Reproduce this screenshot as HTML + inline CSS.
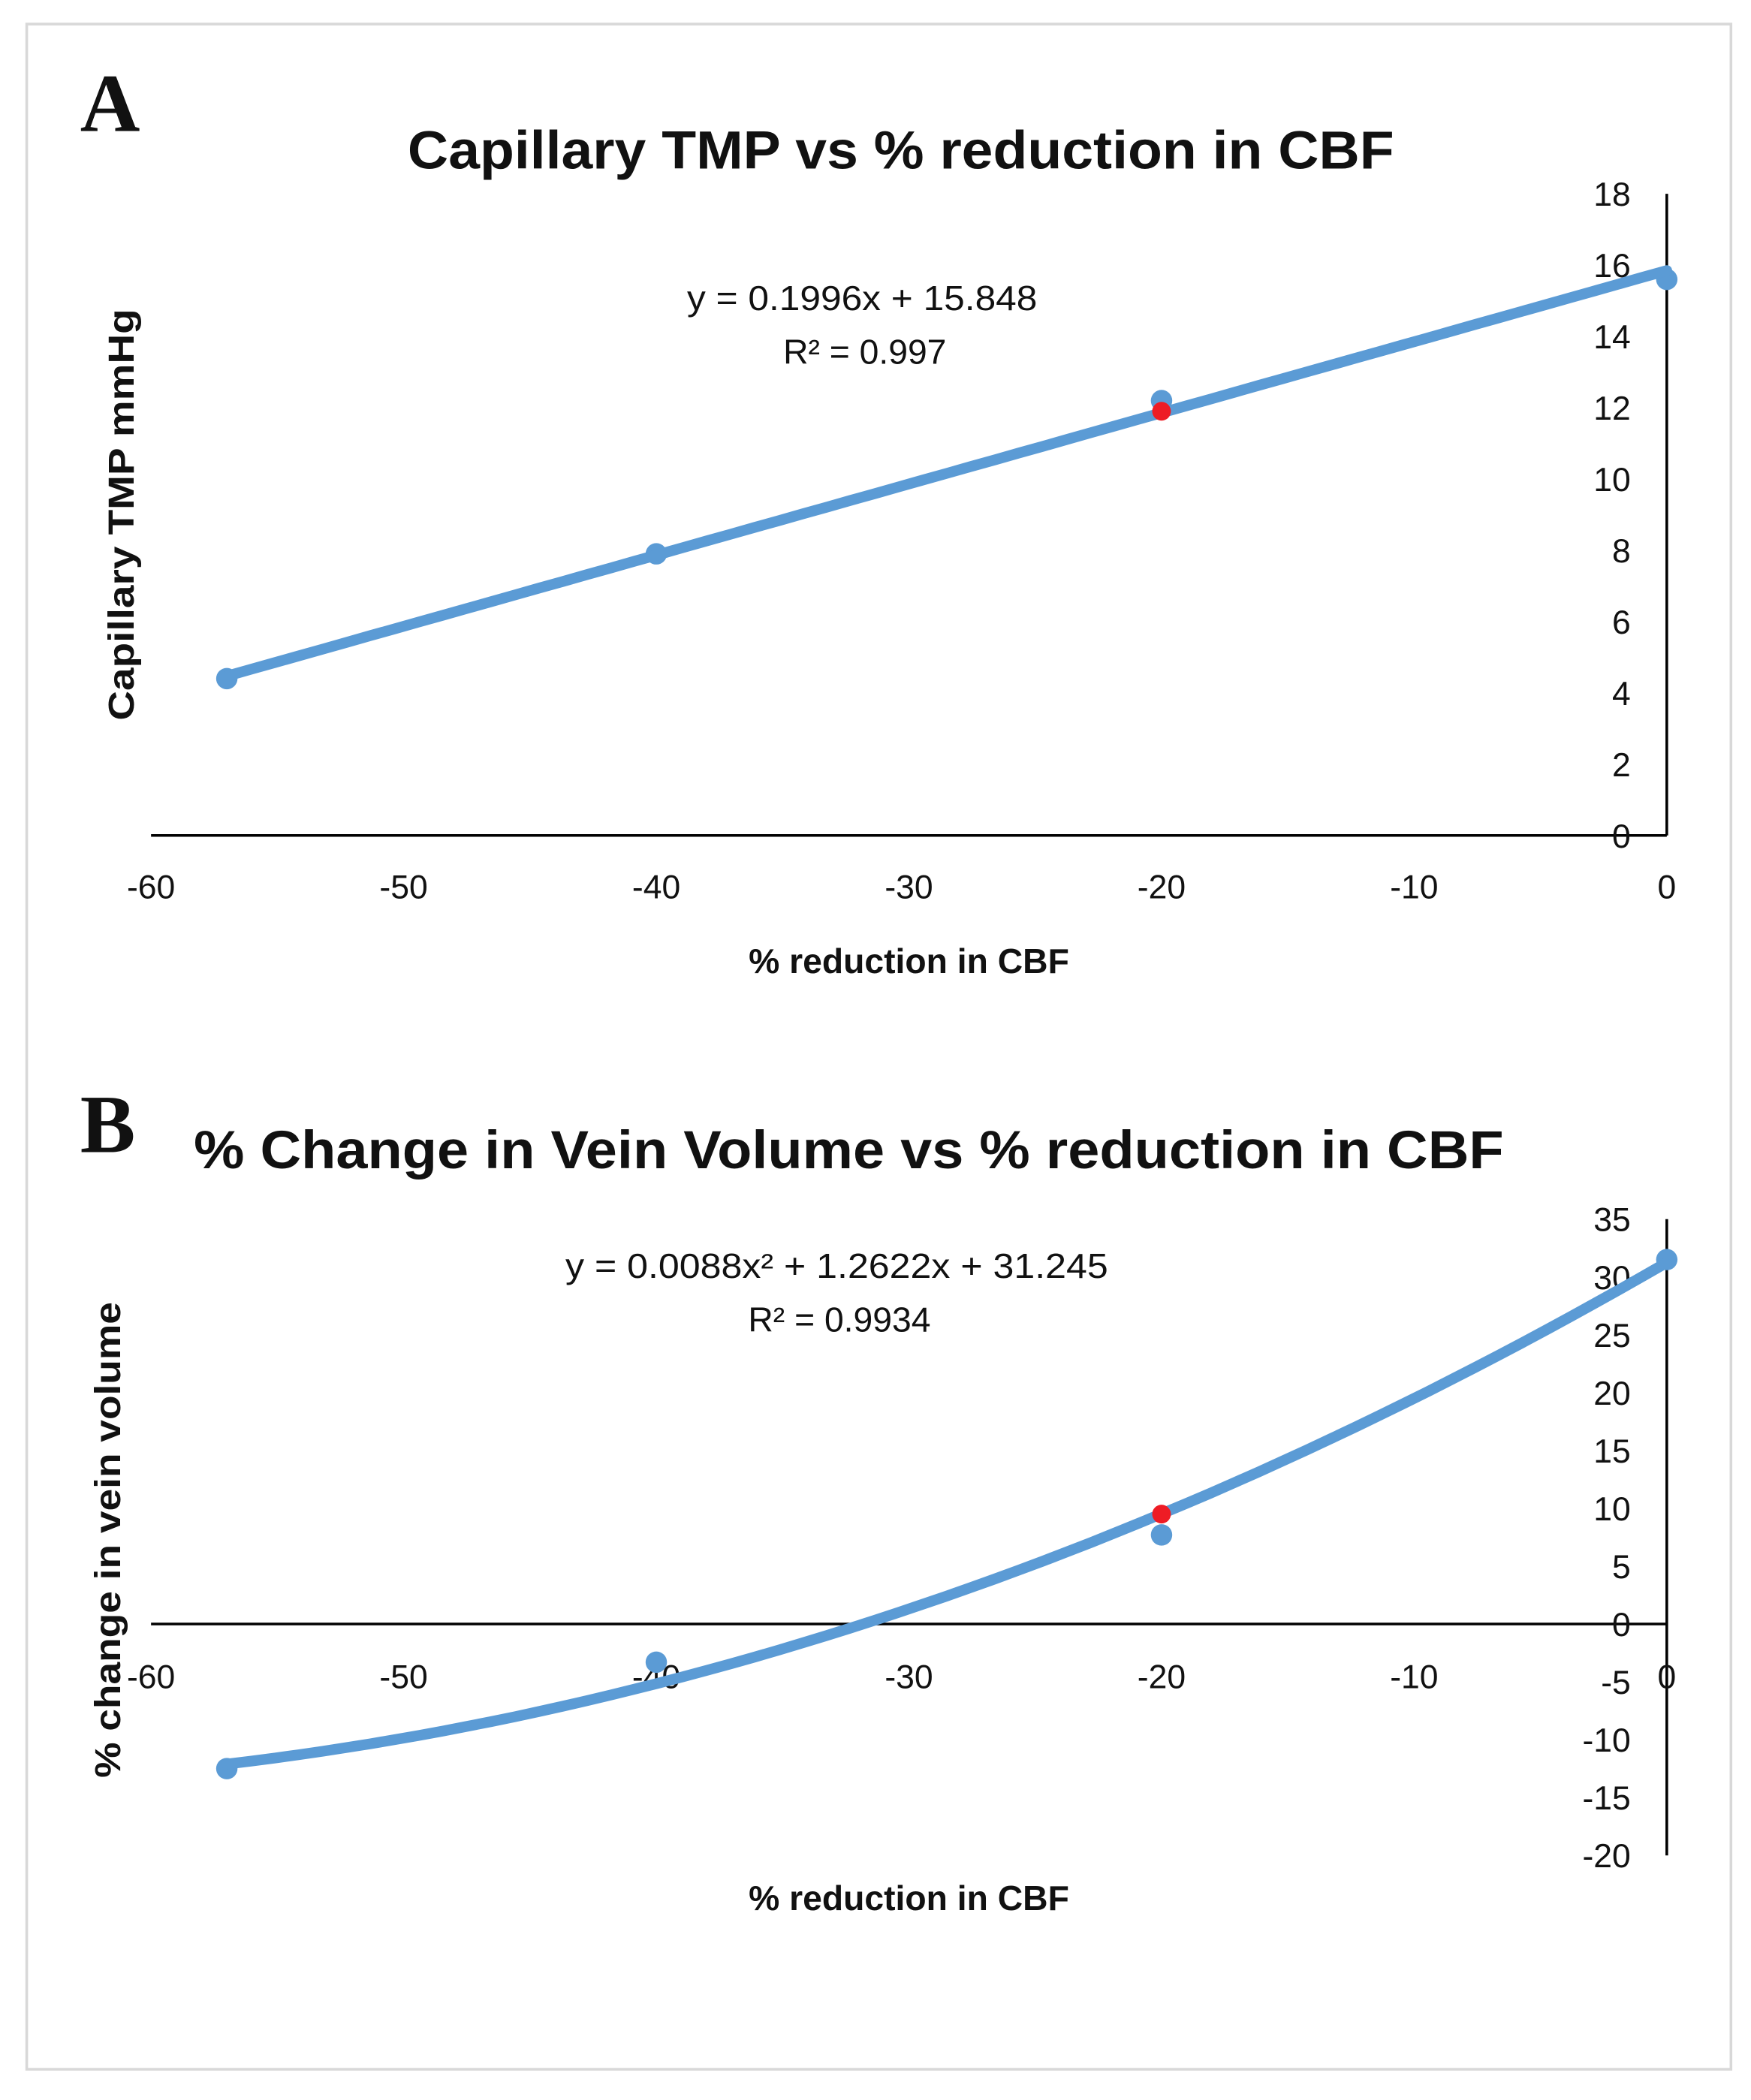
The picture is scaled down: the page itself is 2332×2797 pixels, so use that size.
<!DOCTYPE html>
<html><head><meta charset="utf-8"><style>
html,body{margin:0;padding:0;background:#fff;}
svg{display:block;}
text{font-family:"Liberation Sans",sans-serif;fill:#111;}
</style></head><body>
<svg id="fig" width="2332" height="2797" viewBox="0 0 1310 1571" preserveAspectRatio="none" xmlns="http://www.w3.org/2000/svg">
<rect x="0" y="0" width="1310" height="1571" fill="#fff"/>
<rect x="20" y="18" width="1275" height="1530" fill="none" stroke="#d8d8d8" stroke-width="2"/>
<text x="60" y="98" style="font-family:'Liberation Serif',serif;font-weight:bold;font-size:62px">A</text>
<text x="60" y="862" style="font-family:'Liberation Serif',serif;font-weight:bold;font-size:62px">B</text>
<text x="305" y="126" textLength="738" lengthAdjust="spacingAndGlyphs" style="font-weight:bold;font-size:40px">Capillary TMP vs % reduction in CBF</text>
<text x="145" y="874" textLength="980" lengthAdjust="spacingAndGlyphs" style="font-weight:bold;font-size:40px">% Change in Vein Volume vs  % reduction in CBF</text>
<text x="645" y="232" text-anchor="middle" textLength="262" lengthAdjust="spacingAndGlyphs" style="font-size:26px">y = 0.1996x + 15.848</text>
<text x="647" y="272" text-anchor="middle" style="font-size:26px">R² = 0.997</text>
<text x="626" y="956" text-anchor="middle" textLength="406" lengthAdjust="spacingAndGlyphs" style="font-size:26px">y = 0.0088x² + 1.2622x + 31.245</text>
<text x="628" y="996" text-anchor="middle" style="font-size:26px">R² = 0.9934</text>
<text x="680" y="728" text-anchor="middle" style="font-weight:bold;font-size:26px">% reduction in CBF</text>
<text x="680" y="1429" text-anchor="middle" style="font-weight:bold;font-size:26px">% reduction in CBF</text>
<text transform="translate(100,385) rotate(-90)" text-anchor="middle" textLength="308" lengthAdjust="spacingAndGlyphs" style="font-weight:bold;font-size:27px">Capillary TMP mmHg</text>
<text transform="translate(90,1152) rotate(-90)" text-anchor="middle" textLength="356" lengthAdjust="spacingAndGlyphs" style="font-weight:bold;font-size:27px">% change in vein volume</text>
<g id="chartA"></g>
<g id="chartB"></g>
</svg>
<script>
const xTicks = [-60,-50,-40,-30,-20,-10,0];
const aYTicks = [0,2,4,6,8,10,12,14,16,18];
const aX = [-57,-40,-20,0];
const aY = [4.4,7.9,12.2,15.6];
const aRedX = [-20];
const aRedY = [11.9];
const aSlope = 0.1996;
const aIntercept = 15.848;
const bYTicks = [35,30,25,20,15,10,5,0,-5,-10,-15,-20];
const bX = [-57,-40,-20,0];
const bY = [-12.5,-3.3,7.7,31.5];
const bRedX = [-20];
const bRedY = [9.5];
const bCoef = [0.0088,1.2622,31.245];

const NS='http://www.w3.org/2000/svg';
function mk(tag,attrs,parent,txt){const e=document.createElementNS(NS,tag);for(const k in attrs)e.setAttribute(k,attrs[k]);if(txt!==undefined)e.textContent=txt;parent.appendChild(e);return e;}
const BLUE='#5b9bd5';
function draw(g,cfg){
  const sx=v=>113+(v+60)/60*(1247-113);
  const sy=v=>cfg.y0+(v-cfg.ymin)/(cfg.ymax-cfg.ymin)*(cfg.y1-cfg.y0);
  const zy=sy(0);
  const xa=mk('line',{x1:113,y1:zy,x2:1247,y2:zy,stroke:'#000','stroke-width':2},g);
  
  
  const ya=mk('line',{x1:1247,y1:sy(cfg.ymax),x2:1247,y2:sy(cfg.ymin),stroke:'#000','stroke-width':2},g);
  
  
  xTicks.forEach(t=>{
    const e=mk('text',{x:sx(t),y:zy+cfg.xlabOff,'text-anchor':'middle','font-size':25},g,String(t));
    
    
  });
  cfg.yt.forEach(t=>{
    const e=mk('text',{x:1220,y:sy(t)+9,'text-anchor':'end','font-size':25},g,String(t));
    
    
  });
  let d='';
  for(let i=0;i<=60;i++){const x=-57+57*i/60;d+=(i?'L':'M')+sx(x).toFixed(1)+' '+sy(cfg.f(x)).toFixed(1);}
  cfg.xs.forEach((x,i)=>{
    const c=mk('circle',{cx:sx(x),cy:sy(cfg.ys[i]),r:8,fill:BLUE},g);
    
    
  });
  const p=mk('path',{d:d,fill:'none',stroke:BLUE,'stroke-width':8,'stroke-linecap':'round'},g);
  
  
  cfg.rx.forEach((x,i)=>{
    const c=mk('circle',{cx:sx(x),cy:sy(cfg.ry[i]),r:7,fill:'#ee1c25'},g);
    
    
  });
}
draw(document.getElementById('chartA'),{y0:625,y1:145,ymin:0,ymax:18,yt:aYTicks,xs:aX,ys:aY,rx:aRedX,ry:aRedY,xlabOff:47,f:x=>aSlope*x+aIntercept});
draw(document.getElementById('chartB'),{y0:1388,y1:912,ymin:-20,ymax:35,yt:bYTicks,xs:bX,ys:bY,rx:bRedX,ry:bRedY,xlabOff:48,f:x=>bCoef[0]*x*x+bCoef[1]*x+bCoef[2]});
</script>
</body></html>
